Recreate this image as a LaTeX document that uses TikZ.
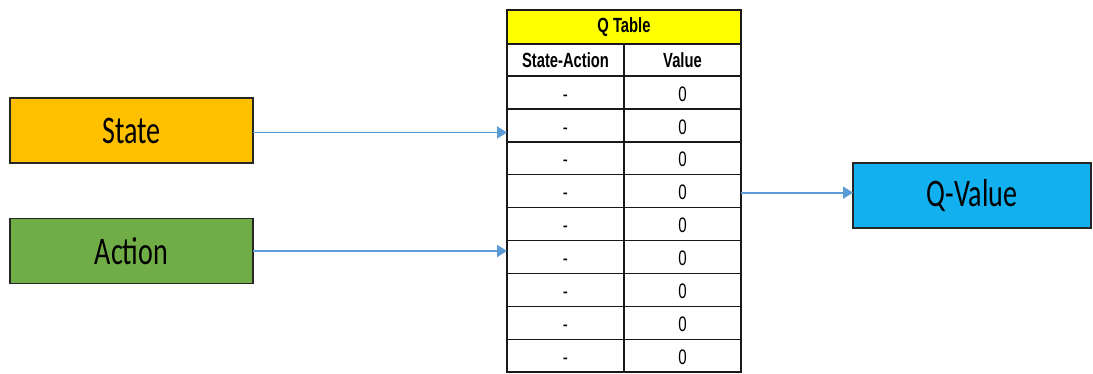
\documentclass[tikz,border=0pt]{standalone}
\usepackage{fontspec}
\usetikzlibrary{arrows.meta}
\newfontfamily\boxfont[FakeStretch=0.72]{Carlito}
\newfontfamily\tabfont[FakeStretch=0.72]{Liberation Sans}
\definecolor{stateC}{HTML}{FFC000}
\definecolor{actionC}{HTML}{70AD47}
\definecolor{qvalC}{HTML}{12B0EE}
\definecolor{arrowC}{HTML}{5B9BD5}
\definecolor{titleC}{HTML}{FFFF00}
\newcommand\celltxt[1]{\raisebox{-1.5pt}[\fontcharht\font`0][0pt]{#1}}
\tikzset{
  bigbox/.style={draw=black!85, line width=1.3pt, inner sep=0pt, outer sep=0pt,
    minimum width=243pt, minimum height=65pt,
    font=\boxfont\fontsize{39}{39}\selectfont},
  cell/.style={draw=black!90, line width=1.4pt, inner sep=0pt, outer sep=0pt,
    minimum width=117pt, minimum height=32.9pt,
    font=\tabfont\fontsize{21}{21}\selectfont},
  headcell/.style={cell, minimum height=32pt,
    font=\tabfont\bfseries\fontsize{20.5}{20.5}\selectfont},
  titlecell/.style={headcell, fill=titleC, minimum width=234pt, minimum height=34pt},
  conn/.style={draw=arrowC, line width=1.8pt, -{Triangle[length=10pt,width=12pt]}}
}
\begin{document}
\begin{tikzpicture}[x=1pt,y=-1pt]
\useasboundingbox (0,0) rectangle (1093,373);
% input / output boxes
\node[bigbox, fill=stateC] (state) at (131.5,130.5) {State};
\node[bigbox, fill=actionC] (action) at (131.5,251) {Action};
\node[bigbox, fill=qvalC, minimum width=238pt] (qval) at (972,195.5) {Q-Value};
% table
\node[titlecell] (title) at (624,27) {Q Table};
\node[headcell] (h1) at (565.5,60) {State-Action};
\node[headcell] (h2) at (682.5,60) {Value};
\foreach \i in {1,...,9}{
  \pgfmathsetmacro{\yy}{76+32.9*(\i-0.5)}
  \node[cell] (r\i c1) at (565.5,\yy) {\celltxt{-}};
  \node[cell] (r\i c2) at (682.5,\yy) {\celltxt{0}};
}
% connectors
\draw[conn] ([yshift=-2pt]state.east) -- ([yshift=-2pt]state.east -| r2c1.west);
\draw[conn] (action.east) -- (action.east -| r6c1.west);
\draw[conn] ([yshift=-1.5pt]r4c2.east) -- ([yshift=-1.5pt]r4c2.east -| qval.west);
\end{tikzpicture}
\end{document}
